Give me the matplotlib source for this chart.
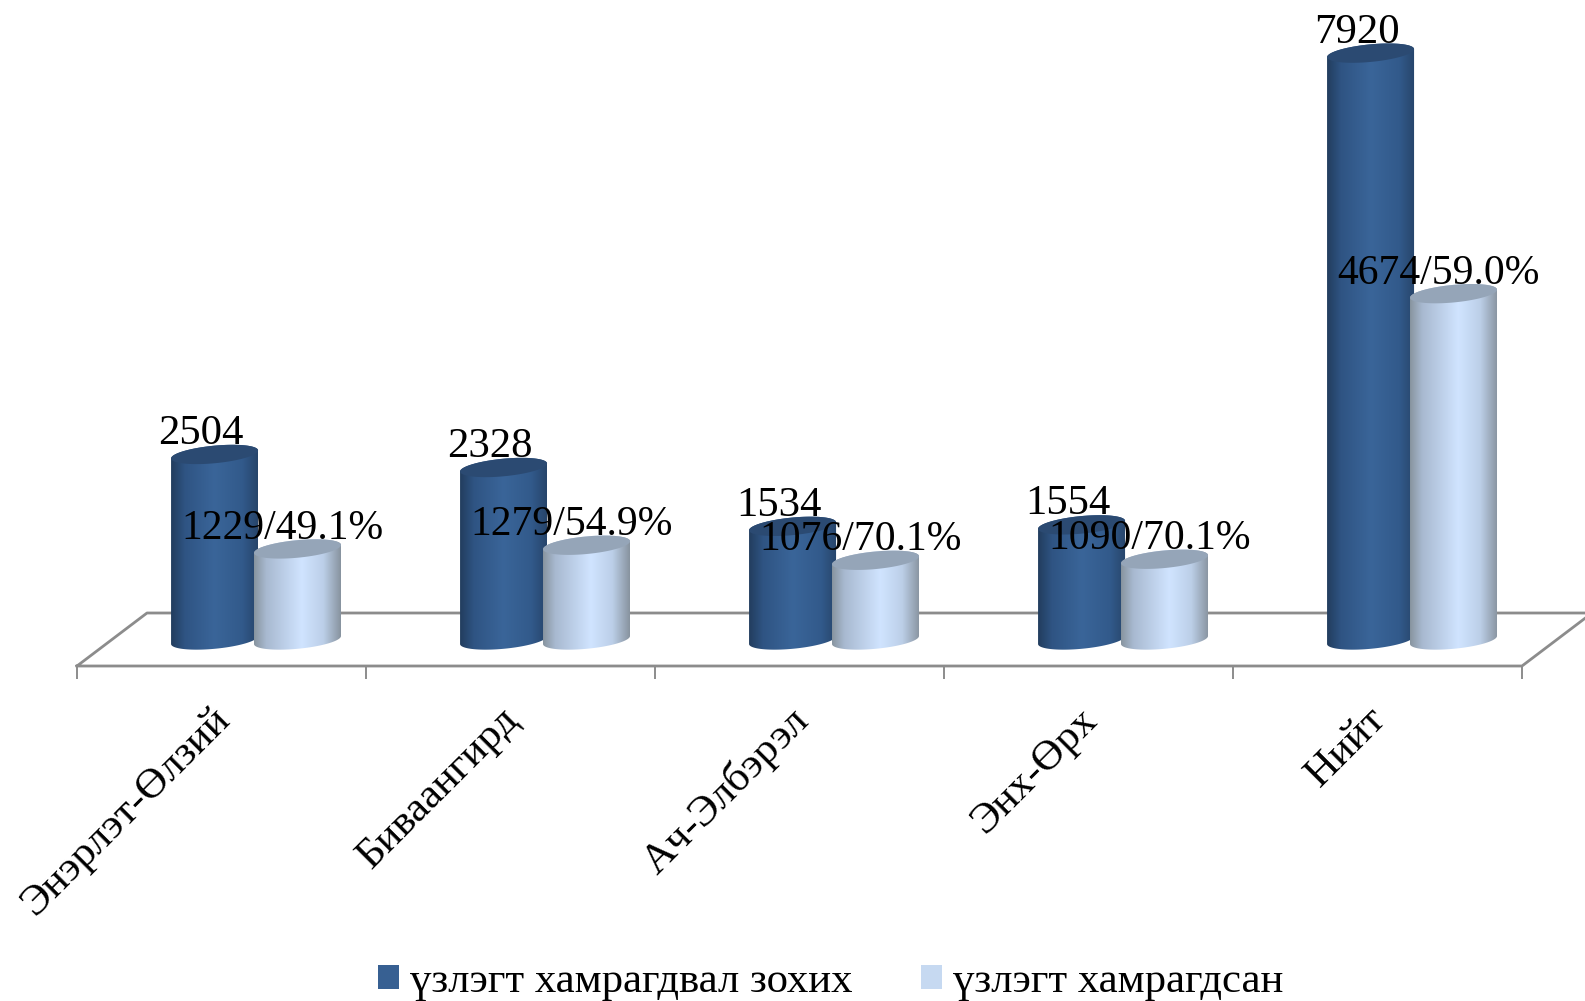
import numpy as np
import matplotlib
matplotlib.use("Agg")
import matplotlib.pyplot as plt
from matplotlib.colors import LinearSegmentedColormap
from matplotlib.patches import PathPatch, Polygon, Patch
from matplotlib.path import Path
from matplotlib.transforms import ScaledTranslation

plt.rcParams['font.family'] = ['Liberation Serif', 'DejaVu Serif']

categories = ["Энэрлэт-Өлзий", "Биваангирд", "Ач-Элбэрэл", "Энх-Өрх", "Нийт"]
series_names = ["үзлэгт хамрагдвал зохих", "үзлэгт хамрагдсан"]
eligible = [2504, 2328, 1534, 1554, 7920]
covered = [1229, 1279, 1076, 1090, 4674]
covered_pct = [49.1, 54.9, 70.1, 70.1, 59.0]

W, H = 1585, 1001
FLOOR_Y, RIGHT_X, LEFT_X = 666, 1522, 77
PX_PER_UNIT = 0.0741
BASE_PX = 26
FS = 30.8
y_min = -BASE_PX / PX_PER_UNIT
y_max = y_min + FLOOR_Y / PX_PER_UNIT
px_x = (RIGHT_X - LEFT_X) / 5

fig = plt.figure(figsize=(W / 100, H / 100), dpi=100, facecolor="white")
ax = fig.add_axes([LEFT_X / W, 1 - FLOOR_Y / H, (RIGHT_X - LEFT_X) / W, FLOOR_Y / H])
ax.patch.set_visible(False)

dark_cmap = LinearSegmentedColormap.from_list("d", [(0, "#223d5e"), (0.16, "#2f5483"), (0.5, "#3a6599"),
                                                    (0.82, "#325a8b"), (1, "#27456b")])
light_cmap = LinearSegmentedColormap.from_list("l", [(0, "#88949f"), (0.14, "#a8b9d0"), (0.55, "#d0e4ff"),
                                                     (0.8, "#bccfe8"), (1, "#87939f")])

BAR_W = 87 / px_x
A = BAR_W / 2
TILT = 4 / PX_PER_UNIT
B = 8.8 / PX_PER_UNIT


def ellipse(cx, y, start, stop, n=60):
    t = np.linspace(start, stop, n)
    return np.column_stack([cx + A * np.cos(t), y + TILT * np.cos(t) + B * np.sin(t)])


def cylinder(cx, value, cmap, top_color, z):
    bottom = ellipse(cx, 0, np.pi, 2 * np.pi)
    top = ellipse(cx, value, 0, np.pi)
    verts = np.vstack([bottom, top, bottom[:1]])
    clip = PathPatch(Path(verts), transform=ax.transData, fc="none", ec="none")
    ax.add_patch(clip)
    grad = np.linspace(0, 1, 256).reshape(1, -1)
    im = ax.imshow(grad, cmap=cmap, aspect="auto", zorder=z, interpolation="bilinear",
                   extent=(cx - A, cx + A, y_min, y_max))
    im.set_clip_path(clip)
    ax.add_patch(Polygon(ellipse(cx, value, 0, 2 * np.pi, 120), closed=True, fc=top_color, ec="none", zorder=z + 0.1))


LINE = "#8c8c8c"
dx = 70 / px_x
dy = 53 / PX_PER_UNIT
y0 = y_min
ax.plot([0, dx, 5 + dx, 5, 0], [y0, y0 + dy, y0 + dy, y0, y0], color=LINE, lw=2.0, clip_on=False, zorder=1)

for i, (e, c, p) in enumerate(zip(eligible, covered, covered_pct)):
    cx_d, cx_l = i + 0.476, i + 0.763
    cylinder(cx_d, e, dark_cmap, "#2b4a72", 2 + i * 0.01)
    cylinder(cx_l, c, light_cmap, "#95a5b8", 3 + i * 0.01)
    ax.annotate(str(e), (cx_d, e), xytext=(-13.5 * 0.72, 10.5 * 0.72), textcoords="offset points",
                ha="center", va="baseline", fontsize=FS, color="black", zorder=6)
    ax.annotate(f"{c}/{p:.1f}%", (cx_l, c), xytext=(-15 * 0.72, 10 * 0.72), textcoords="offset points",
                ha="center", va="baseline", fontsize=30.0, color="black", zorder=6)

ax.set_xlim(0, 5)
ax.set_ylim(y_min, y_max)
for s in ax.spines.values():
    s.set_visible(False)
ax.set_yticks([])
ax.set_xticks(range(6))
ax.set_xticklabels([])
ax.tick_params(axis="x", which="major", length=13 * 0.72, width=1.4, color=LINE)
ax.set_xticks(np.arange(5) + 0.5, minor=True)
ax.set_xticklabels(categories, minor=True, rotation=45, ha="right", rotation_mode="anchor", fontsize=FS)
ax.tick_params(axis="x", which="minor", length=0, pad=24.5)
shift = ScaledTranslation(-11 / 100, 0, fig.dpi_scale_trans)
for lbl in ax.get_xticklabels(minor=True):
    lbl.set_transform(lbl.get_transform() + shift)

handles = [Patch(fc="#376092", ec="none"), Patch(fc="#c6d9f1", ec="none")]
leg = fig.legend(handles, series_names, ncol=2, loc="lower left", bbox_to_anchor=(369 / W, -9 / H),
                 frameon=False, fontsize=FS, handlelength=0.5, handleheight=0.5, handletextpad=0.25,
                 columnspacing=1.6, borderpad=0.2, borderaxespad=0)

fig.savefig("out.png", dpi=100)
